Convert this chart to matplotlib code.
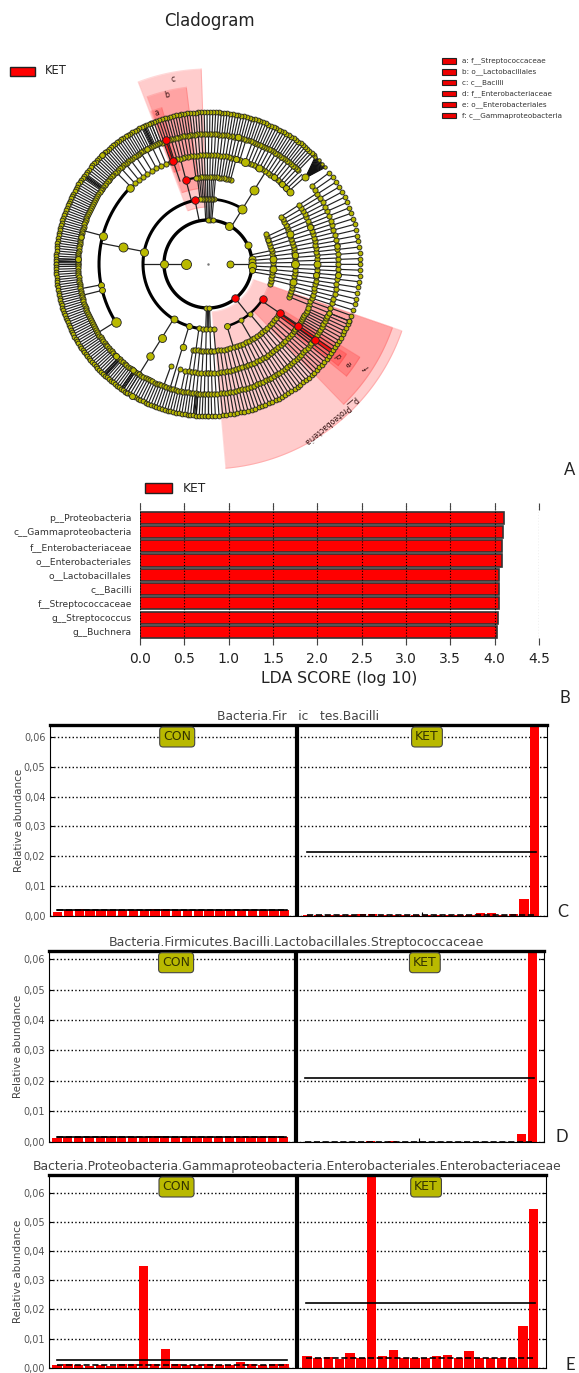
import matplotlib
matplotlib.use("Agg")
import matplotlib.pyplot as plt
from matplotlib.patches import Rectangle
import numpy as np

W, H = 579, 1373
OLIVE = "#b9b900"

# --- LDA scores ---
lda_taxa = ["g__Buchnera", "g__Streptococcus", "f__Streptococcaceae", "c__Bacilli", "o__Lactobacillales",
            "o__Enterobacteriales", "f__Enterobacteriaceae", "c__Gammaproteobacteria", "p__Proteobacteria"]
lda_scores = [4.03, 4.04, 4.05, 4.05, 4.05, 4.08, 4.08, 4.095, 4.10]
lda_ticks = [0.0, 0.5, 1.0, 1.5, 2.0, 2.5, 3.0, 3.5, 4.0, 4.5]

# --- abundance panels, 22 samples per group ---
c_con = [.0015, .0019, .0023, .0019, .0019, .0019, .0019, .0019, .0019, .0023, .0025,
         .0019, .0019, .0019, .0019, .0019, .0019, .0019, .0019, .0019, .0019, .0020]
c_ket = [.0003, .0003, .0003, .0003, .0003, .0006, .0006, .0003, .0003, .0003, .0003,
         .0003, .0003, .0003, .0003, .0003, .0010, .0010, .0003, .0006, .0057, .0800]
d_con = [.0012, .0015, .0015, .0015, .0015, .0015, .0015, .0015, .0015, .0019, .0019,
         .0015, .0015, .0015, .0015, .0015, .0015, .0015, .0015, .0015, .0019, .0015]
d_ket = [0, 0, 0, 0, 0, 0, .0003, 0, .0003, 0, 0,
         0, 0, 0, 0, 0, 0, 0, 0, 0, .0025, .0800]
e_con = [.0009, .0011, .0010, .0007, .0010, .0007, .0011, .0011, .0350, .0011, .0065,
         .0011, .0010, .0010, .0011, .0010, .0010, .0020, .0011, .0010, .0011, .0011]
e_ket = [.0040, .0033, .0037, .0030, .0052, .0033, .0800, .0040, .0060, .0034, .0034,
         .0034, .0040, .0043, .0033, .0057, .0033, .0034, .0034, .0033, .0143, .0544]
panel_titles = ["Bacteria.Fir   ic   tes.Bacilli",
                "Bacteria.Firmicutes.Bacilli.Lactobacillales.Streptococcaceae",
                "Bacteria.Proteobacteria.Gammaproteobacteria.Enterobacteriales.Enterobacteriaceae"]
group_means = [(.0019, .0213), (.0015, .0210), (.0027, .0220)]
group_medians = [(.0019, .0003), (.0015, .0), (.0010, .0033)]
y_ticks = [0, .01, .02, .03, .04, .05, .06]
y_tick_labels = ["0,00", "0,01", "0,02", "0,03", "0,04", "0,05", "0,06"]

# --- cladogram, radius in pixels, angle in degrees ---
# dots and spokes of the dense rings: (start, end, count)
leaf_rings = [(-22, 37, 28), (46, 112, 62), (112, 180, 70), (180, 238, 60), (238, 270, 30), (270, 338, 50)]
ring_109 = [(-22, 33, 30), (42, 70, 18), (73, 108, 24), (110, 135, 10), (258, 270, 8), (270, 322, 32), (322, 336, 12)]
ring_87 = [(-22, 33, 28), (75, 98, 16), (260, 272, 8), (272, 326, 26)]
ring_65 = [(-18, 27, 18), (85, 97, 10), (262, 275, 5)]
# (inner radius, outer radius, start, end, count)
spoke_fans = [(109, 130, -22, 33, 30), (109, 130, 42, 70, 18), (109, 130, 73, 108, 24), (109, 130, 110, 135, 10),
              (109, 130, 258, 322, 38), (109, 130, 322, 336, 12),
              (87, 109, -22, 33, 24), (87, 109, 75, 98, 16), (87, 109, 260, 326, 30),
              (65, 87, -14, 25, 14), (65, 87, 85, 97, 10), (65, 87, 262, 275, 5),
              (44, 65, -10, 12, 7), (44, 65, 85, 93, 6), (44, 65, 268, 272, 4)]
# tight black clumps among the leaves: (start, end)
dark_clumps = [(178, 179.5), (226.5, 227.5), (235, 236), (264.5, 265.5), (114.5, 115.5), (144, 145)]
# single spokes: (inner radius, outer radius, angle)
spokes = [(22, 44, 180), (22, 44, 0), (65, 109, 169), (109, 130, 165), (109, 130, 191), (109, 130, 194),
          (109, 130, 212), (44, 65, 180), (44, 65, 58), (65, 109, 58), (65, 130, 238), (65, 130, 253),
          (109, 130, 250), (109, 130, 255), (44, 65, 101.5), (65, 109, 104.7), (87, 130, 108.7),
          (44, 65, -51.5), (65, 87, -34.4), (87, 109, -34.6), (109, 130, -35.6), (65, 87, -50), (65, 87, -60), (65, 87, -73)]
# thick arcs: (radius, start, end, width)
thick_arcs = [(44, 0, 360, 2.4), (65, 101.5, 275, 2.2), (65, 58, 95, 2.0), (65, -73, -32, 1.8),
              (109, 136, 212, 2.2), (109, 42, 70, 1.8), (87, -80, -65, 1.6), (87, 96, 105, 1.6), (109, 109, 112, 1.2)]
# larger nodes: (radius, angle, diameter)
big_nodes = [(22, 180, 10), (22, 0, 7), (44, 180, 8), (44, 61, 8), (44, 25, 7), (44, 87, 5), (44, 90, 5), (44, 84, 5),
             (44, 6, 7), (44, 2, 7), (44, -3, 8), (44, -8, 6), (44, 268, 5), (44, 271, 5),
             (65, 169, 8), (65, 238, 7), (65, 253, 6), (65, 58, 9), (87, 58, 9), (87, 169, 9),
             (87, 238, 8), (87, 253, 6.5), (109, 238, 7.5), (109, 250, 5), (109, 255, 5),
             (109, 165, 8), (109, 136, 7.5), (109, 191, 6), (109, 194, 6), (109, 212, 9.5),
             (109, 70, 8), (109, 62, 7), (109, 53, 6), (109, 47, 6), (109, 44, 6), (109, 41.6, 7),
             (130, 76.8, 6.5), (130, 42, 7), (87, 20, 7), (65, -73, 6), (65, -60, 5), (65, -50, 5), (65, 22, 5),
             (87, 0, 8), (109, 0, 7), (109, 20, 6), (130, -5, 6), (87, -12, 7), (109, 75, 6),
             (130, 178, 6), (130, 168, 5.5), (130, 225, 6), (130, 235, 5.5), (152, 240, 6), (152, 134, 5.5),
             (65, 4, 7), (65, -4, 7), (87, 6, 6.5), (109, -6, 6), (130, 8, 5.5), (130, 118, 5.5)]
red_nodes = [(65, 101.5), (87, 104.7), (109, 109), (131, 108.7),
             (44, -51.5), (65, -32.3), (87, -34.4), (109, -34.6), (131, -35.6)]
# shaded clades: (inner radius, outer radius, start, end)
clade_wedges = [(57, 195, 92, 111), (76, 178, 97, 110), (98, 163, 106.5, 110.5),
                (48, 205, -85, -19), (64, 195, -46, -19), (88, 178, -39, -31.5), (108, 165, -38, -33)]
# clade labels: (text, radius, angle, rotation)
clade_labels = [("c", 188, 100.7, 10), ("b", 174, 103.7, 14), ("a", 160, 108.7, 18),
                ("d", 160, -35, 125), ("e", 173, -35, 125), ("f", 189, -33, 125), ("p__Proteobacteria", 199, -52, 220)]
legend_names = ["a: f__Streptococcaceae", "b: o__Lactobacillales", "c: c__Bacilli",
                "d: f__Enterobacteriaceae", "e: o__Enterobacteriales", "f: c__Gammaproteobacteria"]


def px_axes(left, top, right, bottom, **kw):
    return fig.add_axes([left / W, 1 - bottom / H, (right - left) / W, (bottom - top) / H], **kw)


def angles(seg):
    return np.radians(np.linspace(seg[0], seg[1], seg[2]))


def dots(ax, th, r, d, color=OLIVE, z=5):
    ax.scatter(th, np.full(np.shape(th), r), s=(d * 0.72) ** 2, c=color, edgecolors="#222222", linewidths=0.6, zorder=z)


fig = plt.figure(figsize=(W / 100, H / 100), dpi=100)

# cladogram
center_x, center_y, rmax = 208, 264, 210
ax = px_axes(center_x - rmax, center_y - rmax, center_x + rmax, center_y + rmax, projection="polar")
ax.set_ylim(0, rmax)
ax.set_axis_off()

for r0, r1, a0, a1 in clade_wedges:
    th = np.radians(np.linspace(a0, a1, 60))
    ax.fill_between(th, r0, r1, color="#ff0000", alpha=0.2, lw=0, zorder=1)
    ax.plot(np.r_[th, th[::-1], th[0]], np.r_[np.full(60, r1), np.full(60, r0), r1], color="#ff0000", alpha=0.15, lw=0.8, zorder=1)
ax.vlines(np.radians(-35), 88, 150, color="#ee0000", lw=2.5, alpha=0.8, zorder=2)
ax.vlines(np.radians(108.9), 109, 131, color="#ee0000", lw=2.5, alpha=0.8, zorder=2)

for seg in leaf_rings:
    ax.vlines(angles(seg), 130, 152, color="#222222", lw=0.85, zorder=2)
for r0, r1, a0, a1, n in spoke_fans:
    ax.vlines(np.radians(np.linspace(a0, a1, n)), r0, r1, color="#222222", lw=0.85, zorder=2)
for r0, r1, a in spokes:
    ax.vlines(np.radians(a), r0, r1, color="#222222", lw=0.9, zorder=2)
for a0, a1 in dark_clumps:
    ax.vlines(np.radians(np.linspace(a0, a1, 3)), 130, 152, color="#111111", lw=0.8, zorder=2)
for t in np.radians(np.linspace(39.5, 45, 14)):
    ax.plot([np.radians(41.5), t], [130, 152], color="#111111", lw=0.9, zorder=2)
for r, a0, a1, lw in thick_arcs:
    ax.plot(np.radians(np.linspace(a0, a1, 200)), np.full(200, r), color="black", lw=lw, zorder=3)

for seg in leaf_rings:
    dots(ax, angles(seg), 152, 4.8)
    dots(ax, angles(seg), 130, 5.2)
dots(ax, np.radians(np.linspace(39.5, 45, 4)), 152, 3.5)
for seg in ring_109:
    dots(ax, angles(seg), 109, 5.2)
for seg in ring_87:
    dots(ax, angles(seg), 87, 5.2)
for seg in ring_65:
    dots(ax, angles(seg), 65, 5.2)
for r, a, d in big_nodes:
    dots(ax, [np.radians(a)], r, d, z=6)
for r, a in red_nodes:
    dots(ax, [np.radians(a)], r, 7.5, color="#ff0000", z=7)
ax.scatter([0], [0], s=0.6, c="#777777", zorder=5)
for txt, r, a, rot in clade_labels:
    ax.text(np.radians(a), r, txt, fontsize=5.5, rotation=rot, rotation_mode="anchor", ha="center", va="center",
            color="#331111", zorder=8)

# legends, titles and panel letters in pixel coordinates
ov = fig.add_axes([0, 0, 1, 1], facecolor="none")
ov.set_xlim(0, W)
ov.set_ylim(H, 0)
ov.set_axis_off()
ov.text(209, 21.5, "Cladogram", fontsize=12, ha="center", va="center", color="#222222")
ov.add_patch(Rectangle((10, 66.5), 25, 9, fc="#ff0000", ec="#222222", lw=1))
ov.text(44.5, 71, "KET", fontsize=8.3, va="center", color="#222222")
ov.add_patch(Rectangle((145, 483), 27, 10, fc="#ff0000", ec="#222222", lw=1))
ov.text(183, 488, "KET", fontsize=8.8, va="center", color="#222222")
for i, name in enumerate(legend_names):
    y = 61 + i * 10.9
    ov.add_patch(Rectangle((441.5, y - 2.7), 14.5, 5.4, fc="#ee0000", ec="#222222", lw=0.8))
    ov.text(462, y, name, fontsize=5.2, va="center", color="#333333")
for letter, x, y in [("A", 570, 470), ("B", 565, 698), ("C", 563, 912), ("D", 562, 1137), ("E", 570, 1365)]:
    ov.text(x, y, letter, fontsize=12, family="Lato", ha="center", va="center", color="#222222")

# LDA bars
ax_b = px_axes(140, 503, 539, 645)
ax_b.barh(np.arange(9), lda_scores, height=0.85, color="#ff0000", edgecolor="#333333", lw=1.2)
ax_b.set_xlim(0, 4.5)
ax_b.set_ylim(-0.91, 9.02)
ax_b.set_yticks(np.arange(9))
ax_b.set_yticklabels(lda_taxa, fontsize=6.6, color="#333333")
ax_b.set_xticks(lda_ticks)
ax_b.set_xticklabels(["%.1f" % v for v in lda_ticks], fontsize=10, color="#222222")
ax_b.tick_params(axis="y", length=0, pad=6)
ax_b.tick_params(axis="x", length=5, direction="in", top=True, pad=5, width=0.8, color="#444444")
ax_b.set_xlabel("LDA SCORE (log 10)", fontsize=11.3, color="#222222", labelpad=4)
ax_b.grid(axis="x", linestyle=":", color="black", lw=0.8)
ax_b.set_axisbelow(False)
for s in ax_b.spines.values():
    s.set_visible(False)

# abundance panels
boxes = [(49.6, 725, 547, 916, .0640), (49, 950.7, 544.4, 1141.7, .0628), (49, 1175, 546, 1367.7, .0660)]
con_x = np.arange(22) + 0.75
ket_x = np.arange(22) + 23.87
panels = [(c_con, c_ket), (d_con, d_ket), (e_con, e_ket)]
title_sizes = [8.8, 9.0, 8.95]
for k, (con, ket) in enumerate(panels):
    left, top, right, bottom, ymax = boxes[k]
    a = px_axes(left, top, right, bottom)
    a.bar(con_x, con, width=0.86, color="#ff0000", lw=0)
    a.bar(ket_x, ket, width=0.86, color="#ff0000", lw=0)
    a.plot([0.72, 22], [group_means[k][0]] * 2, color="black", lw=1.2)
    a.plot([23.8, 45], [group_means[k][1]] * 2, color="black", lw=1.2)
    a.plot([0.72, 22], [group_medians[k][0]] * 2, color="black", lw=1.2, ls="--")
    a.plot([23.8, 45], [group_medians[k][1]] * 2, color="black", lw=1.2, ls="--")
    a.axvline(22.91, color="black", lw=3)
    a.set_xlim(0, 46)
    a.set_ylim(0, ymax)
    a.set_yticks(y_ticks)
    a.set_yticklabels(y_tick_labels, fontsize=7, color="#555555")
    a.set_xticks([11.3, 34.4])
    a.set_xticklabels([])
    a.tick_params(axis="both", direction="in", length=3, right=True, pad=3)
    a.grid(axis="y", linestyle=":", color="black", lw=1)
    a.set_axisbelow(True)
    a.spines["top"].set_linewidth(2.4)
    a.set_ylabel("Relative abundance", fontsize=7.5, color="#444444")
    a.yaxis.set_label_coords(-0.052, 0.5)
    a.set_title(panel_titles[k], fontsize=title_sizes[k], color="#444444", pad=3.5)
    for txt, xc in [("CON", 11.8), ("KET", 34.9)]:
        a.text(xc, 1 - 12 / (bottom - top), txt, transform=a.get_xaxis_transform(), fontsize=9, ha="center", va="center",
               color="#333300", zorder=6, bbox=dict(boxstyle="round,pad=0.28", fc=OLIVE, ec="#444444", lw=0.8))

fig.savefig("out.png", dpi=100)
